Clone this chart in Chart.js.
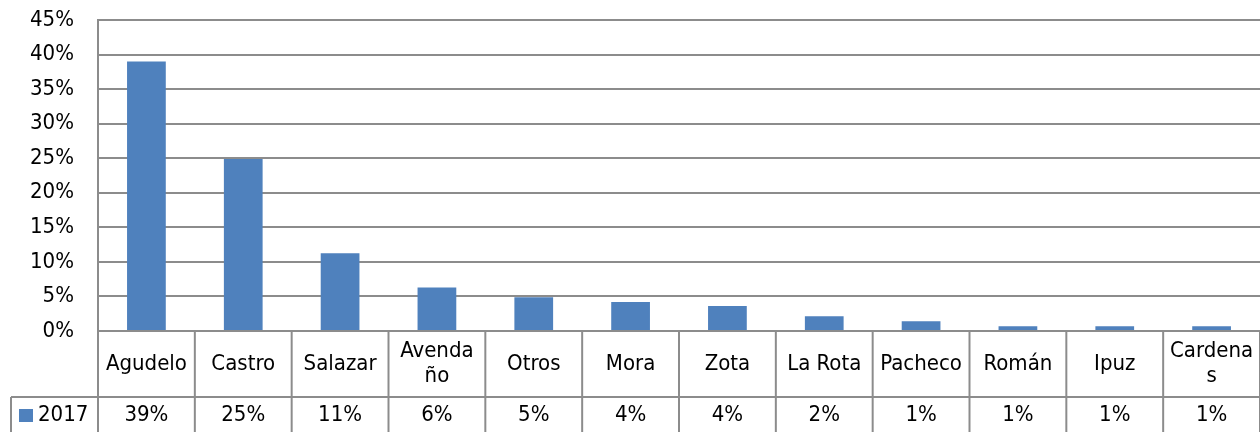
<!DOCTYPE html>
<html>
<head>
<meta charset="utf-8">
<script src="https://cdn.jsdelivr.net/npm/chart.js@4/dist/chart.umd.min.js"></script>
<style>
  html, body { margin: 0; padding: 0; background: #fff; }
  #wrap { width: 1260px; height: 432px; position: relative; }
</style>
</head>
<body>
<div id="wrap"><canvas id="chart" width="1260" height="432"></canvas></div>
<script>
// Data
const categories = ['Agudelo', 'Castro', 'Salazar', ['Avenda', 'ño'], 'Otros', 'Mora', 'Zota', 'La Rota', 'Pacheco', 'Román', 'Ipuz', ['Cardena', 's']];
const seriesName = '2017';
const values2017 = [0.39, 0.249, 0.1125, 0.063, 0.049, 0.042, 0.036, 0.0215, 0.014, 0.007, 0.007, 0.007];
const yTicks = [0, 0.05, 0.10, 0.15, 0.20, 0.25, 0.30, 0.35, 0.40, 0.45];

const FONT = "'DejaVu Sans Condensed', 'DejaVu Sans', sans-serif";
const FSIZE = 22;
const GRID = '#8c8c8c';
const BAR = '#4f81bd';

// Data table under the plot (Excel style)
const dataTable = {
    id: 'dataTable',
    afterDraw(chart) {
        const ctx = chart.ctx;
        const x = chart.scales.x;
        const area = chart.chartArea;
        const row1Top = area.bottom;
        const row2Top = 397;
        const bottom = chart.height;
        const step = (area.right - area.left) / categories.length;

        ctx.save();
        ctx.strokeStyle = GRID;
        ctx.lineWidth = 2;
        // horizontal lines
        ctx.beginPath();
        ctx.moveTo(11, row2Top);
        ctx.lineTo(area.right, row2Top);
        ctx.stroke();
        // legend cell left border
        ctx.beginPath();
        ctx.moveTo(11, row2Top);
        ctx.lineTo(11, bottom);
        ctx.stroke();
        // vertical separators
        for (let i = 0; i <= categories.length; i++) {
            const px = area.left + i * step;
            ctx.beginPath();
            ctx.moveTo(px, row1Top);
            ctx.lineTo(px, bottom);
            ctx.stroke();
        }

        ctx.fillStyle = '#000';
        ctx.font = FSIZE + 'px ' + FONT;
        ctx.textAlign = 'center';
        ctx.textBaseline = 'middle';
        categories.forEach((c, i) => {
            const cx = x.getPixelForValue(i);
            const lines = Array.isArray(c) ? c : [c];
            const lh = 25;
            const midY = (row1Top + row2Top) / 2;
            lines.forEach((t, j) => {
                ctx.fillText(t, cx, midY + (j - (lines.length - 1) / 2) * lh);
            });
            ctx.fillText(Math.round(values2017[i] * 100) + '%', cx, 415);
        });

        // legend key
        ctx.fillStyle = BAR;
        ctx.fillRect(19, 409, 14, 13);
        ctx.fillStyle = '#000';
        ctx.textAlign = 'left';
        ctx.fillText(seriesName, 38, 415);
        ctx.restore();
    }
};

new Chart(document.getElementById('chart').getContext('2d'), {
    type: 'bar',
    data: {
        labels: categories,
        datasets: [{
            label: seriesName,
            data: values2017,
            backgroundColor: BAR,
            borderWidth: 0,
            categoryPercentage: 1,
            barPercentage: 0.4
        }]
    },
    options: {
        responsive: false,
        animation: false,
        layout: { padding: { top: 20, right: 0, bottom: 101, left: 0 } },
        plugins: { legend: { display: false }, tooltip: { enabled: false } },
        scales: {
            x: {
                display: true,
                grid: { display: false, drawTicks: false },
                border: { display: false },
                ticks: { display: false }
            },
            y: {
                min: 0,
                max: 0.45,
                afterFit(scale) {
                    scale.width = 98;
                    scale.paddingTop = 0;
                    scale.paddingBottom = 0;
                },
                afterBuildTicks(scale) { scale.ticks = yTicks.map(v => ({ value: v })); },
                grid: { color: GRID, lineWidth: 2, drawTicks: false },
                border: { display: true, color: GRID, width: 2 },
                ticks: {
                    color: '#000',
                    padding: 24,
                    font: { family: FONT, size: FSIZE },
                    callback: v => Math.round(v * 100) + '%'
                }
            }
        }
    },
    plugins: [dataTable]
});
</script>
</body>
</html>
